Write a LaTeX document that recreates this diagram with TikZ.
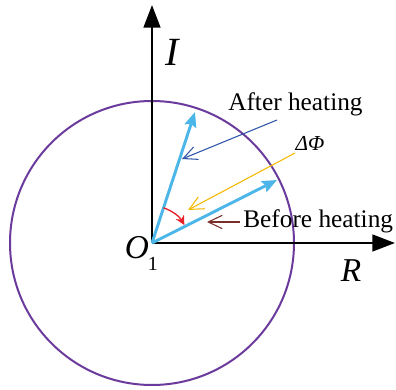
\documentclass[tikz,border=0pt]{standalone}
\usepackage{fontspec}
\setmainfont{Liberation Serif}
\usetikzlibrary{positioning, arrows.meta, calc}
\definecolor{ring}{HTML}{6A3A9C}
\definecolor{vec}{HTML}{4DB6E8}
\definecolor{aft}{HTML}{2F56A8}
\definecolor{dphi}{HTML}{F5B800}
\definecolor{bef}{HTML}{7A2E2A}
\definecolor{arcred}{HTML}{E8202A}

\begin{document}
\begin{tikzpicture}[x=0.75pt, y=0.75pt,
  ax/.style={line width=1.9pt, -{Triangle[length=17pt, width=12.5pt]}},
  phasor/.style={line width=2.2pt, vec, -{Stealth[length=11pt, width=9pt, inset=1.5pt]}},
  note/.style={line width=0.8pt, -{Straight Barb[length=10.5pt, width=10pt]}},
  lbl/.style={font=\fontsize{19}{21}\selectfont, inner sep=0pt},
  big/.style={font=\fontsize{25}{27}\selectfont\itshape, inner sep=0pt}
]
  \useasboundingbox (-152,-146) rectangle (244,243);

  \coordinate (o) at (0,0);
  \coordinate (itip) at (0,238);
  \coordinate (rtip) at (243,0);
  \coordinate (before) at (125,63);
  \coordinate (after) at (43,131);

  % circle
  \draw[ring, line width=1.5pt] (o) circle (142);

  % axes
  \draw[ax] (o) -- (itip);
  \draw[ax] (o) -- (rtip);
  \node[big, font=\fontsize{30}{32}\selectfont\itshape] (ilab) at (20,191) {I};
  \node[big] (rlab) at (199,-28) {R};
  \node[big] (olab) at (-15,-5) {O};
  \node[lbl, font=\fontsize{15}{17}\selectfont] (osub) at (1,-21) {1};

  % phasors
  \draw[phasor] (o) -- (before);
  \draw[phasor] (o) -- (after);

  % labels
  \node[lbl, anchor=west] (aftlab) at (76,139) {After heating};
  \node[lbl, font=\fontsize{16}{18}\selectfont\itshape] (dlab) at (158,100) {ΔΦ};
  \node[lbl, anchor=west] (beflab) at (91,22) {Before heating};

  \coordinate (a0) at (125,123);
  \coordinate (a1) at (30,84);
  \coordinate (d0) at (143,90);
  \coordinate (d1) at (36,33);
  \coordinate (b0) at (88,21);
  \coordinate (b1) at (55,21);
  \draw[note, aft] (a0) -- (a1);
  \draw[note, dphi] (d0) -- (d1);
  \draw[note, bef] (b0) -- (b1);

  % angle
  \draw[arcred, line width=1pt, -{Stealth[length=7pt, width=7pt]}]
    ($(o)+(72:27.75pt)$) arc[start angle=72, end angle=29, radius=27.75pt];
\end{tikzpicture}
\end{document}
